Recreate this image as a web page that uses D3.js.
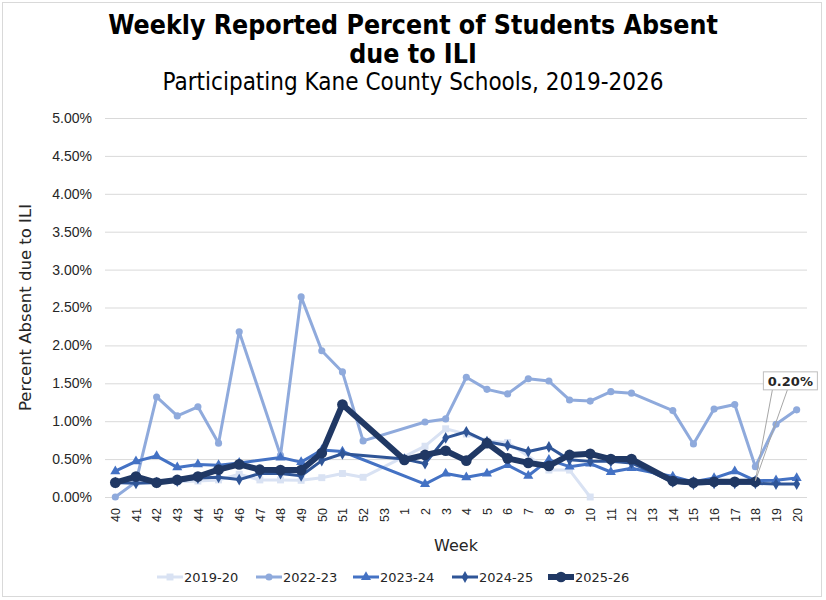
<!DOCTYPE html>
<html>
<head>
<meta charset="utf-8">
<script src="https://cdn.jsdelivr.net/npm/d3@7"></script>
<style>
    body { margin: 0; background: #fff; }
    svg { display: block; }
</style>
</head>
<body>
<svg id="chart"></svg>
<script>
var width = 826;
var height = 600;
var left = 105;
var right = 807;
var top_ = 118;
var bottom = 497;

// Week labels (school year runs from week 40 to week 20)
var weeks = ["40", "41", "42", "43", "44", "45", "46", "47", "48", "49", "50", "51", "52", "53",
    "1", "2", "3", "4", "5", "6", "7", "8", "9", "10", "11", "12", "13", "14", "15", "16", "17", "18", "19", "20"];

var seasons = ["2019-20", "2022-23", "2023-24", "2024-25", "2025-26"];

// Percent absent, one value per week (null = not reported)
var s2019 = [0.18, 0.19, 0.18, 0.20, 0.21, 0.225, 0.30, 0.225, 0.225, 0.22, 0.255, 0.31, 0.26, null,
    null, 0.67, 0.90, 0.83, 0.74, 0.72, null, 0.355, 0.355, 0.00, null, null, null, null, null, null, null, null, null, null];
var s2022 = [0.00, 0.20, 1.32, 1.07, 1.19, 0.71, 2.18, null, 0.55, 2.64, 1.93, 1.65, 0.74, null,
    null, 0.99, 1.03, 1.58, 1.42, 1.36, 1.56, 1.53, 1.28, 1.265, 1.39, 1.37, null, 1.14, 0.70, 1.16, 1.22, 0.40, 0.96, 1.15];
var s2023 = [0.34, 0.47, 0.54, 0.39, 0.43, 0.42, 0.45, null, 0.52, 0.46, 0.62, 0.60, null, null,
    null, 0.17, 0.31, 0.26, 0.31, 0.42, 0.28, 0.49, 0.40, 0.44, 0.33, 0.38, null, 0.27, 0.20, 0.25, 0.34, 0.215, 0.22, 0.25];
var s2024 = [0.19, 0.18, 0.19, 0.21, 0.25, 0.26, 0.23, 0.31, 0.31, 0.28, 0.48, 0.57, null, null,
    0.50, 0.44, 0.78, 0.86, 0.73, 0.68, 0.60, 0.66, 0.49, 0.47, 0.47, 0.45, null, 0.20, 0.17, 0.18, 0.18, 0.18, 0.17, 0.17];
var s2025 = [0.19, 0.27, 0.19, 0.225, 0.27, 0.36, 0.43, 0.36, 0.355, 0.355, 0.58, 1.22, null, null,
    0.49, 0.555, 0.61, 0.48, 0.71, 0.51, 0.45, 0.41, 0.555, 0.57, 0.50, 0.50, null, 0.21, 0.19, 0.20, 0.20, 0.20, null, null];

var yTicks = [0, 0.5, 1, 1.5, 2, 2.5, 3, 3.5, 4, 4.5, 5];

// Label shown on the last 2025-26 point
var labelWeek = "18";
var labelValue = 0.20;

var styles = [
    { color: "#d9e2f3", width: 3, marker: d3.symbolSquare, size: 48 },
    { color: "#8faadc", width: 3, marker: d3.symbolCircle, size: 40 },
    { color: "#4472c4", width: 3, marker: d3.symbolTriangle, size: 44 },
    { color: "#2f5597", width: 3, marker: d3.symbolDiamond, size: 40 },
    { color: "#203864", width: 6, marker: d3.symbolCircle, size: 90 }
];

var values = [s2019, s2022, s2023, s2024, s2025];

var svg = d3.select("#chart")
    .attr("width", width)
    .attr("height", height)
    .style("font-family", "'DejaVu Sans', Verdana, sans-serif");

// Outer border
svg.append("rect")
    .attr("x", 2.5).attr("y", 2.5)
    .attr("width", 819).attr("height", 594)
    .attr("fill", "#fff")
    .attr("stroke", "#d9d9d9");

// Titles
var titleFont = "'DejaVu Sans Condensed', 'DejaVu Sans', sans-serif";
svg.append("text")
    .attr("x", 413).attr("y", 34)
    .attr("text-anchor", "middle")
    .style("font-family", titleFont)
    .style("font-weight", "bold")
    .style("font-size", "26.5px")
    .text("Weekly Reported Percent of Students Absent");
svg.append("text")
    .attr("x", 413).attr("y", 63)
    .attr("text-anchor", "middle")
    .style("font-family", titleFont)
    .style("font-weight", "bold")
    .style("font-size", "26.5px")
    .text("due to ILI");
svg.append("text")
    .attr("x", 413).attr("y", 90)
    .attr("text-anchor", "middle")
    .style("font-family", titleFont)
    .style("font-size", "24px")
    .text("Participating Kane County Schools, 2019-2026");

// Scales
var x = d3.scalePoint()
    .domain(weeks)
    .range([left, right])
    .padding(0.5);

var y = d3.scaleLinear()
    .domain([0, 5])
    .range([bottom, top_]);

// Y axis with gridlines
var yAxis = svg.append("g")
    .attr("transform", "translate(" + left + ",0)")
    .call(d3.axisLeft(y)
        .tickValues(yTicks)
        .tickSizeInner(-(right - left))
        .tickSizeOuter(0)
        .tickPadding(13)
        .tickFormat(function (d) { return d.toFixed(2) + "%"; }));
yAxis.select(".domain").remove();
yAxis.selectAll("line").attr("stroke", "#d9d9d9");
yAxis.selectAll("text")
    .style("font-size", "14px")
    .style("fill", "#262626");

// X axis
var xAxis = svg.append("g")
    .attr("transform", "translate(0," + bottom + ")")
    .call(d3.axisBottom(x).tickSize(0));
xAxis.select(".domain").remove();
xAxis.selectAll("text")
    .attr("transform", "rotate(-90)")
    .attr("x", -11)
    .attr("y", 0)
    .attr("dy", "0.35em")
    .style("text-anchor", "end")
    .style("font-size", "12.5px")
    .style("fill", "#262626");

// Axis titles
svg.append("text")
    .attr("transform", "translate(31," + (top_ + bottom) / 2 + ") rotate(-90)")
    .attr("text-anchor", "middle")
    .style("font-size", "16.5px")
    .style("fill", "#262626")
    .text("Percent Absent due to ILI");
svg.append("text")
    .attr("x", (left + right) / 2)
    .attr("y", 551)
    .attr("text-anchor", "middle")
    .style("font-size", "16px")
    .style("fill", "#262626")
    .text("Week");

// Lines and markers (gaps are bridged, like the original)
var line = d3.line()
    .x(function (d) { return x(d.week); })
    .y(function (d) { return y(d.value); });

seasons.forEach(function (season, i) {
    var pts = weeks.map(function (w, j) { return { week: w, value: values[i][j] }; })
        .filter(function (d) { return d.value !== null; });
    var st = styles[i];

    svg.append("path")
        .datum(pts)
        .attr("fill", "none")
        .attr("stroke", st.color)
        .attr("stroke-width", st.width)
        .attr("stroke-linejoin", "round")
        .attr("d", line);

    svg.append("g").selectAll("path")
        .data(pts)
        .enter().append("path")
        .attr("transform", function (d) { return "translate(" + x(d.week) + "," + y(d.value) + ")"; })
        .attr("d", d3.symbol().type(st.marker).size(st.size))
        .attr("fill", st.color);
});

// Callout label on week 18
var px = x(labelWeek);
var py = y(labelValue);
var bx = px + 8;
var by = py - 110;
svg.append("path")
    .attr("d", "M" + (bx + 9) + "," + (by + 18) + "L" + px + "," + (py - 1) + "L" + (bx + 24) + "," + (by + 18))
    .attr("fill", "none")
    .attr("stroke", "#a6a6a6")
    .attr("stroke-width", 1);
svg.append("rect")
    .attr("x", bx).attr("y", by)
    .attr("width", 54).attr("height", 18)
    .attr("fill", "#fff")
    .attr("stroke", "#bfbfbf");
svg.append("text")
    .attr("x", bx + 27).attr("y", by + 14)
    .attr("text-anchor", "middle")
    .style("font-size", "13px")
    .style("font-weight", "bold")
    .style("fill", "#262626")
    .text(labelValue.toFixed(2) + "%");

// Legend
var legendX = [157, 256, 353, 452, 548];
var legend = svg.append("g")
    .attr("transform", "translate(0,577)");
seasons.forEach(function (season, i) {
    var st = styles[i];
    var g = legend.append("g").attr("transform", "translate(" + legendX[i] + ",0)");
    g.append("line")
        .attr("x1", 0).attr("x2", 26)
        .attr("stroke", st.color)
        .attr("stroke-width", st.width);
    g.append("path")
        .attr("transform", "translate(13,0)")
        .attr("d", d3.symbol().type(st.marker).size(st.size))
        .attr("fill", st.color);
    g.append("text")
        .attr("x", 27)
        .attr("dy", "0.35em")
        .style("font-size", "13px")
        .style("fill", "#262626")
        .text(season);
});
</script>
</body>
</html>
